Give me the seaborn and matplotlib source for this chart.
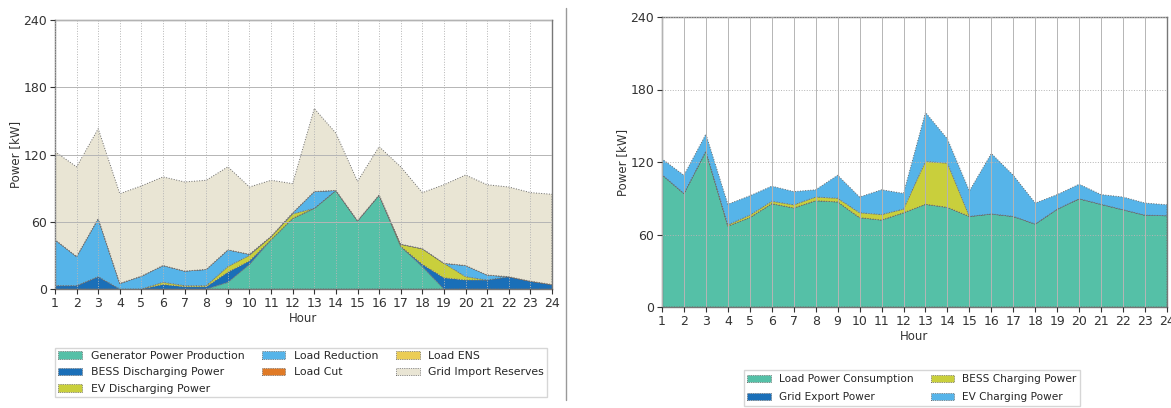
"""Hourly power balance: supply side (left) and demand side (right)"""
import numpy as np
import pandas as pd
import matplotlib.pyplot as plt
import seaborn as sns
from matplotlib.lines import Line2D

hours = list(range(1, 25))

# left panel - supply side stack (kW)
generator = [0, 0, 0, 0, 0, 0, 0, 0, 6, 22, 44, 63, 72, 88, 61, 84, 38, 20, 0, 0, 0, 0, 0, 0]
bess_discharging = [3, 3, 11, 0, 0, 4, 2, 2, 9, 3, 0, 0, 0, 0, 0, 0, 0, 2, 10, 8, 8, 11, 7, 4]
ev_discharging = [0, 0, 0, 0, 0, 2, 1, 1, 5, 5, 3, 4, 0, 0, 0, 0, 2, 14, 13, 3, 0, 0, 0, 0]
load_reduction = [41, 26, 52, 5, 11.5, 15, 13, 14.5, 15, 1, 0, 1, 15, 0, 0, 0, 0, 0, 0, 10, 4.5, 0, 0, 0]
load_cut = [0] * 24
load_ens = [0] * 24
grid_import_reserves = [78.5, 80, 80, 80, 80.5, 79, 79.5, 79.5, 74, 60, 50, 26,
                        74, 51, 35, 43, 69, 50, 70, 80.7, 80.5, 80, 79, 80.5]

# right panel - demand side stack (kW)
load_consumption = [109.5, 94, 129, 67, 74, 85.5, 82, 88, 87, 74, 72, 78,
                    85, 82.5, 75, 77, 75, 68.7, 81, 89.6, 85, 80.5, 76, 75.6]
grid_export = [0] * 24
bess_charging = [0, 0, 0, 1, 2, 2, 2.5, 3, 3, 4, 4.5, 3, 35.5, 36.5, 0, 0, 0, 0, 0, 0, 0, 0, 0, 0]
ev_charging = [13, 15, 14, 17, 16, 12.5, 11, 6, 19, 13, 20.5, 13,
               40.5, 20, 21, 50, 34, 17.3, 12, 12, 8, 10.5, 10, 9]

supply = pd.DataFrame({
    "Generator Power Production": generator,
    "BESS Discharging Power": bess_discharging,
    "EV Discharging Power": ev_discharging,
    "Load Reduction": load_reduction,
    "Load Cut": load_cut,
    "Load ENS": load_ens,
    "Grid Import Reserves": grid_import_reserves,
}, index=hours)

demand = pd.DataFrame({
    "Load Power Consumption": load_consumption,
    "Grid Export Power": grid_export,
    "BESS Charging Power": bess_charging,
    "EV Charging Power": ev_charging,
}, index=hours)

sns.set_theme(style="white")
plt.rcParams["font.family"] = ["DejaVu Sans"]

teal, dblue, ygreen = "#55c0a7", "#1a6fb8", "#c9cf3c"
lblue, orange, yellow, beige = "#56b4e9", "#e07a26", "#ebcd55", "#e9e5d4"

supply_colors = [teal, dblue, ygreen, lblue, orange, yellow, beige]
demand_colors = [teal, dblue, ygreen, lblue]

W, H = 1171, 408
fig = plt.figure(figsize=(W / 100, H / 100), dpi=100)
ax1 = fig.add_axes([55 / W, 1 - 289 / H, (552 - 55) / W, (289 - 20) / H])
ax2 = fig.add_axes([662 / W, 1 - 307 / H, (1167 - 662) / W, (307 - 17) / H])


def stacked(ax, df, colors, vgrid, hgrid):
    ax.stackplot(df.index, df.T.values, labels=df.columns, colors=colors,
                 edgecolor="#6a6a6a", linestyle=":", linewidth=0.7, zorder=2)
    ax.set_xlim(1, 24)
    ax.set_ylim(0, 240)
    ax.set_xticks(hours)
    ax.set_yticks(np.arange(0, 241, 60))
    ax.xaxis.grid(True, linestyle=vgrid, color="#b5b5b5", linewidth=0.7, zorder=3)
    ax.yaxis.grid(True, linestyle=hgrid, color="#b5b5b5", linewidth=0.7, zorder=3)
    ax.set_axisbelow(False)
    ax.tick_params(axis="both", labelsize=9, colors="#333333", length=3.5, width=0.8,
                   bottom=True, left=True, pad=2)
    for s in ax.spines.values():
        s.set_color("#777777")
        s.set_linewidth(1.0)
    ax.set_xlabel("Hour", fontsize=8.5, color="#333333", labelpad=2)
    ax.set_ylabel("Power [kW]", fontsize=8.5, color="#333333", labelpad=1)


stacked(ax1, supply, supply_colors, ":", "-")
stacked(ax2, demand, demand_colors, "-", ":")

ax1.legend(loc="upper center", bbox_to_anchor=(0.495, -0.2), ncol=3, fontsize=7.8,
           frameon=True, edgecolor="#cccccc", fancybox=False, columnspacing=1.6,
           handlelength=2.2, labelspacing=0.6, borderpad=0.25)
ax2.legend(loc="upper center", bbox_to_anchor=(0.495, -0.2), ncol=2, fontsize=7.6,
           frameon=True, edgecolor="#cccccc", fancybox=False, columnspacing=1.6,
           handlelength=2.2, labelspacing=0.8, borderpad=0.35)

fig.add_artist(Line2D([566 / W, 566 / W], [1 - 8 / H, 1 - 400 / H],
                      color="#999999", linewidth=1.0))

fig.savefig("out.png", dpi=100)
